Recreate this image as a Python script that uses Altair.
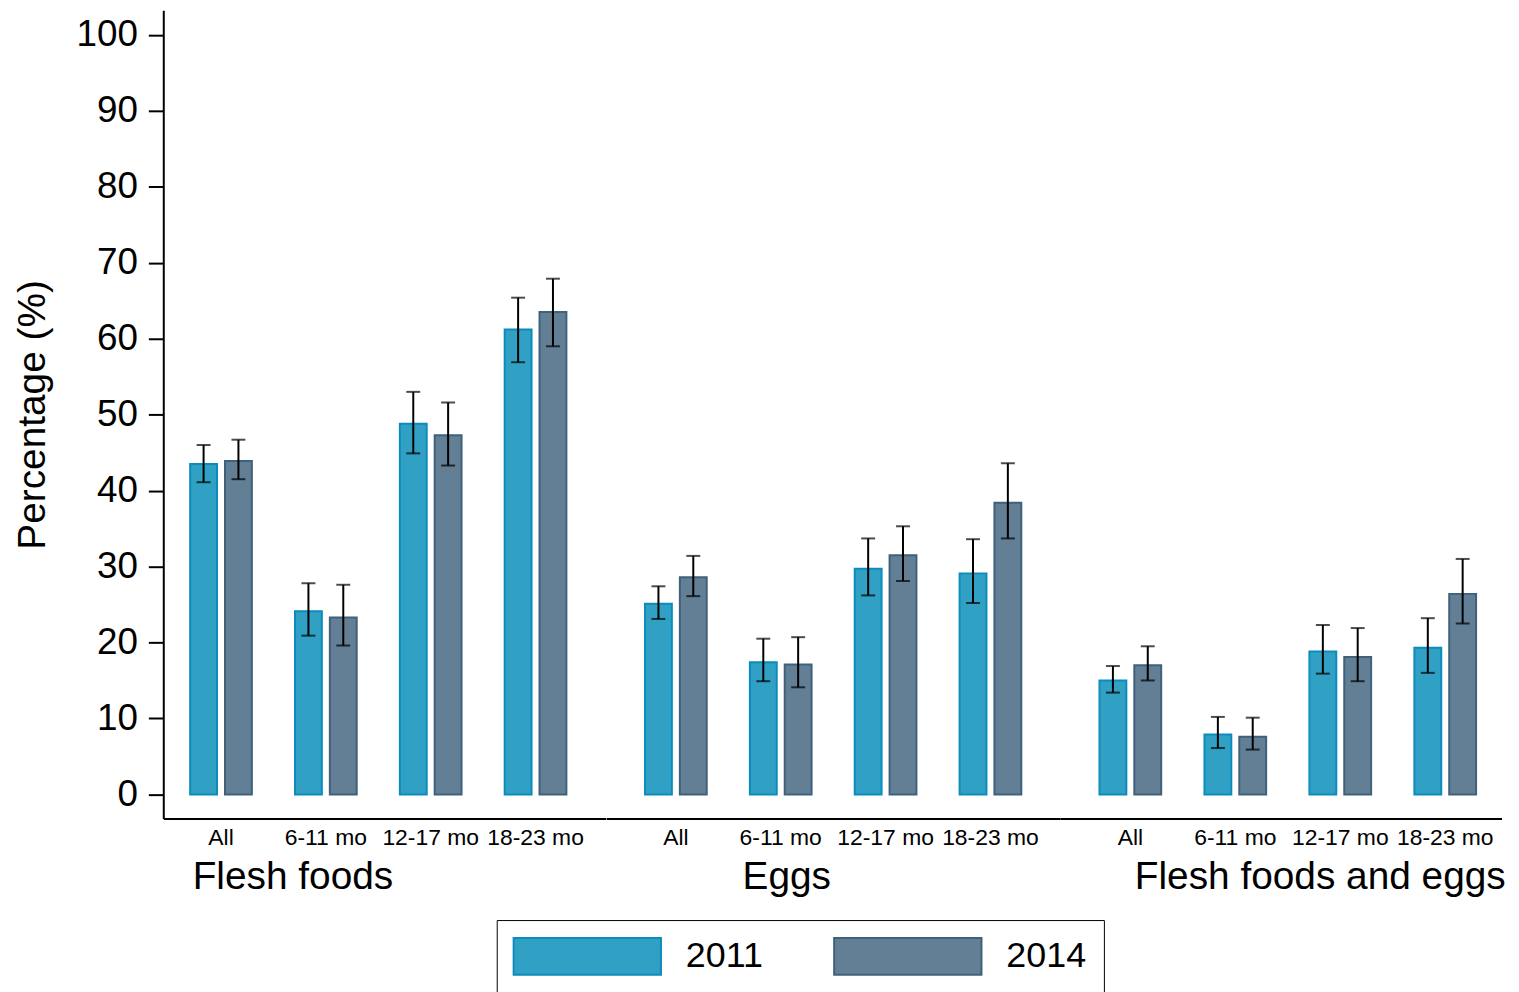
import altair as alt
import pandas as pd

categories = ["Flesh foods", "Eggs", "Flesh foods and eggs"]
age_groups = ["All", "6-11 mo", "12-17 mo", "18-23 mo"]
years = ["2011", "2014"]

# point estimates and 95% CI per category, age group, year
ff_2011 = [43.5, 24.1, 48.8, 61.2]
ff_2011_lo = [41.1, 20.9, 44.9, 56.9]
ff_2011_hi = [46.0, 27.8, 53.0, 65.4]
ff_2014 = [43.9, 23.3, 47.3, 63.5]
ff_2014_lo = [41.5, 19.6, 43.3, 59.0]
ff_2014_hi = [46.7, 27.6, 51.6, 67.9]

eggs_2011 = [25.1, 17.4, 29.7, 29.1]
eggs_2011_lo = [23.1, 14.9, 26.2, 25.2]
eggs_2011_hi = [27.4, 20.5, 33.7, 33.6]
eggs_2014 = [28.6, 17.1, 31.5, 38.4]
eggs_2014_lo = [26.1, 14.1, 28.1, 33.7]
eggs_2014_hi = [31.4, 20.7, 35.3, 43.6]

ffe_2011 = [15.0, 7.9, 18.8, 19.3]
ffe_2011_lo = [13.4, 6.1, 15.9, 16.0]
ffe_2011_hi = [16.9, 10.2, 22.3, 23.2]
ffe_2014 = [17.0, 7.6, 18.1, 26.4]
ffe_2014_lo = [15.0, 5.9, 14.9, 22.5]
ffe_2014_hi = [19.5, 10.1, 21.9, 31.0]

series = {
    "Flesh foods": {
        "2011": (ff_2011, ff_2011_lo, ff_2011_hi),
        "2014": (ff_2014, ff_2014_lo, ff_2014_hi),
    },
    "Eggs": {
        "2011": (eggs_2011, eggs_2011_lo, eggs_2011_hi),
        "2014": (eggs_2014, eggs_2014_lo, eggs_2014_hi),
    },
    "Flesh foods and eggs": {
        "2011": (ffe_2011, ffe_2011_lo, ffe_2011_hi),
        "2014": (ffe_2014, ffe_2014_lo, ffe_2014_hi),
    },
}

rows = []
for cat in categories:
    for yr in years:
        v, lo, hi = series[cat][yr]
        for i, age in enumerate(age_groups):
            rows.append({"category": cat, "age": age, "year": yr,
                         "value": v[i], "lo": lo[i], "hi": hi[i]})
df = pd.DataFrame(rows)

FONT = "Liberation Sans"
fill_colors = ["#31a0c5", "#627f95"]
stroke_colors = ["#0b8cbd", "#40617a"]
Y_DOMAIN = [-3.18, 103.24]

# per-panel layout: (width, paddingOuter, align, titleX)
layout = {
    "Flesh foods": (444.5, 0.3157, 0.406, 29),
    "Eggs": (456, 0.370, 0.5, 136.5),
    "Flesh foods and eggs": (443.5, 0.3085, 0.608, 74.5),
}


def panel(cat, first):
    width, po, align, tx = layout[cat]
    d = df[df["category"] == cat]
    if first:
        yaxis = alt.Axis(
            title="Percentage (%)", values=list(range(0, 101, 10)),
            labelFontSize=37, titleFontSize=39, titleFontWeight="normal",
            tickSize=15, tickWidth=2, domainWidth=2, labelPadding=11,
            titlePadding=24, grid=False, domainColor="black",
            tickColor="black", labelColor="black", titleColor="black",
        )
    else:
        yaxis = None
    yscale = alt.Scale(domain=Y_DOMAIN, nice=False, zero=False)
    base = alt.Chart(d).encode(
        x=alt.X(
            "age:N", sort=age_groups,
            scale=alt.Scale(paddingInner=0.4114, paddingOuter=po, align=align),
            axis=alt.Axis(
                title=cat, labelAngle=0, labelFontSize=23, ticks=False,
                labelPadding=8, domainWidth=2, domainColor="black",
                labelColor="black", titleColor="black", titleFontSize=39,
                titleFontWeight="normal", titleX=tx, titleY=70,
                titleAlign="left", titleAnchor="start",
                titleBaseline="alphabetic",
            ),
        ),
        xOffset=alt.XOffset("year:N", sort=years,
                            scale=alt.Scale(paddingInner=0.229, paddingOuter=0)),
    )
    bars = base.mark_bar(strokeWidth=2).encode(
        y=alt.Y("value:Q", scale=yscale, axis=yaxis),
        y2=alt.datum(0),
        fill=alt.Fill(
            "year:N", sort=years,
            scale=alt.Scale(domain=years, range=fill_colors),
            legend=alt.Legend(
                title=None, orient="none", legendX=335, legendY=914,
                direction="horizontal",
                symbolType="M-4,-1H4V1H-4Z", symbolSize=1369,
                symbolOffset=54.5, symbolStrokeWidth=2,
                labelFontSize=36, labelOffset=79.5,
                columnPadding=67, padding=17, strokeColor="black",
                fillColor="white", labelColor="black", labelFont=FONT,
            ),
        ),
        stroke=alt.Stroke(
            "year:N", sort=years,
            scale=alt.Scale(domain=years, range=stroke_colors),
            legend=None,
        ),
    )
    rules = base.mark_rule(color="black", strokeWidth=2).encode(
        y=alt.Y("lo:Q", scale=yscale, axis=yaxis),
        y2="hi:Q",
    )
    cap_lo = base.mark_tick(color="black", size=14, thickness=2).encode(
        y=alt.Y("lo:Q", scale=yscale, axis=yaxis),
    )
    cap_hi = base.mark_tick(color="black", size=14, thickness=2).encode(
        y=alt.Y("hi:Q", scale=yscale, axis=yaxis),
    )
    return alt.layer(bars, rules, cap_lo, cap_hi).properties(width=width, height=812)


panels = [panel(c, i == 0) for i, c in enumerate(categories)]

chart = (
    alt.hconcat(*panels, spacing=0, bounds="flush")
    .resolve_scale(fill="shared", stroke="shared")
    .properties(padding={"left": 5, "top": 0, "right": 5, "bottom": 0})
    .configure(font=FONT)
    .configure_view(stroke=None)
    .configure_axis(labelFont=FONT, titleFont=FONT)
)

chart.save("out.html", embed_options={"renderer": "svg", "actions": False})
